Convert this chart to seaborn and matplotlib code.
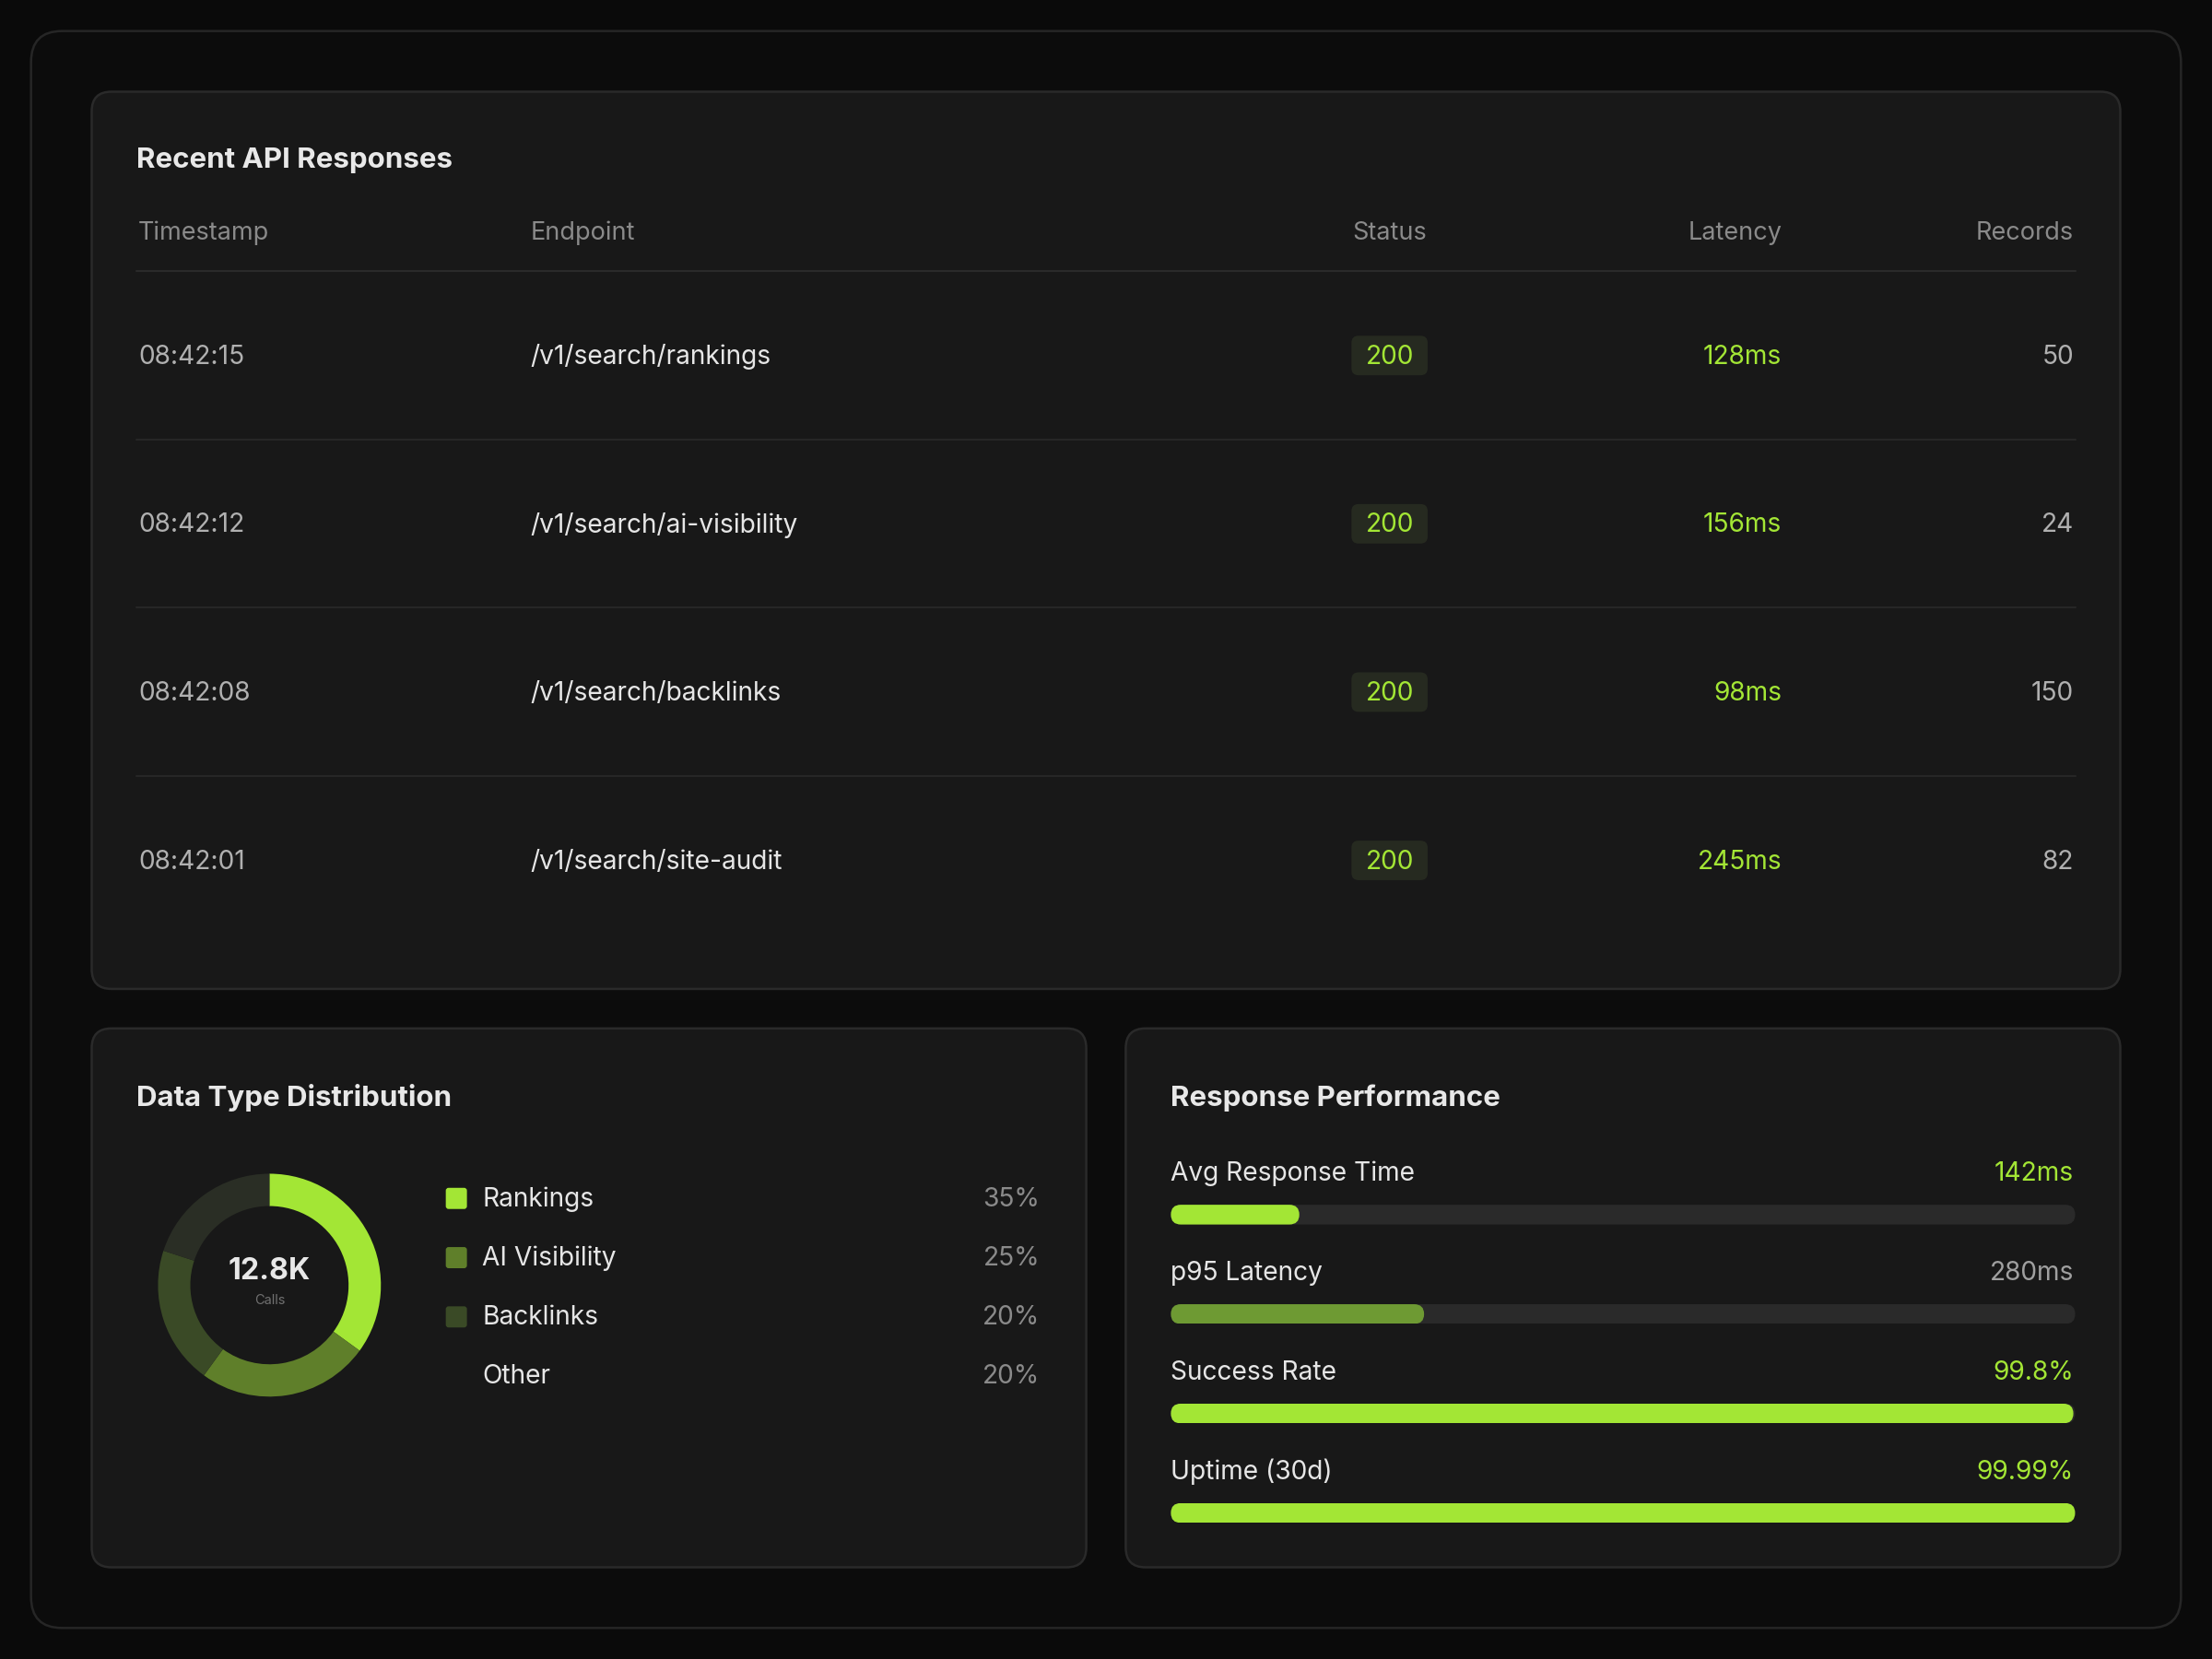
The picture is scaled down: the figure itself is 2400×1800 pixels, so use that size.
import matplotlib.pyplot as plt
import seaborn as sns
from matplotlib.patches import FancyBboxPatch

sns.set_theme(style="dark")
plt.rcParams['font.family'] = ['Inter', 'DejaVu Sans']

# data
timestamps = ['08:42:15', '08:42:12', '08:42:08', '08:42:01']
endpoints = ['/v1/search/rankings', '/v1/search/ai-visibility', '/v1/search/backlinks', '/v1/search/site-audit']
statuses = ['200', '200', '200', '200']
latencies = ['128ms', '156ms', '98ms', '245ms']
records = ['50', '24', '150', '82']

dist_labels = ['Rankings', 'AI Visibility', 'Backlinks', 'Other']
dist_values = [35, 25, 20, 20]
dist_colors = ['#a3e635', '#5f7f2a', '#3a4a26', '#2a2e25']

perf_labels = ['Avg Response Time', 'p95 Latency', 'Success Rate', 'Uptime (30d)']
perf_text = ['142ms', '280ms', '99.8%', '99.99%']
perf_fill = [0.142, 0.28, 0.998, 0.9999]
perf_colors = ['#a3e635', '#6e9a33', '#a3e635', '#a3e635']
perf_text_colors = ['#a3e635', '#a0a0a0', '#a3e635', '#a3e635']

LIME = '#a3e635'
FS = 13.5
fig = plt.figure(figsize=(16, 12), dpi=150, facecolor='#0a0a0a')
ax = fig.add_axes([0, 0, 1, 1])
ax.set_xlim(0, 1568)
ax.set_ylim(1176, 0)
ax.axis('off')
ax.set_facecolor('#0a0a0a')


def card(x, y, w, h, fc='#181818', ec='#2a2a2a', r=14):
    ax.add_patch(FancyBboxPatch((x, y), w, h, boxstyle=f"round,pad=0,rounding_size={r}",
                                fc=fc, ec=ec, lw=1.2))


card(22, 22, 1524, 1132, fc='#0c0c0c', ec='#262626', r=22)
card(65, 65, 1438, 636)
card(65, 729, 705, 382)
card(798, 729, 705, 382)

# table
ax.text(97, 114, 'Recent API Responses', color='#e8e8e8', fontsize=15, weight='bold', va='center')
hdr = [(98, 'Timestamp', 'left'), (376, 'Endpoint', 'left'), (985, 'Status', 'center'),
       (1263, 'Latency', 'right'), (1470, 'Records', 'right')]
for x, t, ha in hdr:
    ax.text(x, 165, t, color='#8a8a8a', fontsize=13, ha=ha, va='center')
ax.plot([97, 1471], [192, 192], color='#2a2a2a', lw=1)
for i in range(len(timestamps)):
    y = 253 + i * 119.3
    ax.text(98, y, timestamps[i], color='#b0b0b0', fontsize=FS, va='center')
    ax.text(376, y, endpoints[i], color='#e6e6e6', fontsize=FS, va='center')
    ax.add_patch(FancyBboxPatch((958, y - 15), 54, 28, boxstyle="round,pad=0,rounding_size=5",
                                fc='#262a20', ec='none'))
    ax.text(985, y, statuses[i], color=LIME, fontsize=FS, ha='center', va='center')
    ax.text(1263, y, latencies[i], color=LIME, fontsize=FS, ha='right', va='center')
    ax.text(1470, y, records[i], color='#b0b0b0', fontsize=FS, ha='right', va='center')
    if i < len(timestamps) - 1:
        ax.plot([97, 1471], [y + 58.5, y + 58.5], color='#262626', lw=1)

# donut
ax.text(97, 778, 'Data Type Distribution', color='#e8e8e8', fontsize=15, weight='bold', va='center')
dax = fig.add_axes([112 / 1568, 1 - 990 / 1176, 158 / 1568, 158 / 1176])
dax.pie(dist_values, colors=dist_colors, startangle=90, counterclock=False,
        wedgeprops=dict(width=0.29, edgecolor='none'))
dax.set_xlim(-1, 1)
dax.set_ylim(-1, 1)
dax.set_aspect('equal')
dax.text(0, 0.12, '12.8K', color='#e8e8e8', fontsize=15.5, weight='bold', ha='center', va='center')
dax.text(0, -0.14, 'Calls', color='#707070', fontsize=7, ha='center', va='center')
for i, (lab, val) in enumerate(zip(dist_labels, dist_values)):
    y = 850 + i * 42
    if i < 3:
        ax.add_patch(FancyBboxPatch((316, y - 8), 15, 15, boxstyle="round,pad=0,rounding_size=2",
                                    fc=dist_colors[i], ec='none'))
    ax.text(342, y, lab, color='#e6e6e6', fontsize=FS, va='center')
    ax.text(737, y, f'{val}%', color='#8a8a8a', fontsize=FS, ha='right', va='center')

# performance bars
ax.text(830, 778, 'Response Performance', color='#e8e8e8', fontsize=15, weight='bold', va='center')
for i in range(len(perf_labels)):
    y = 832 + i * 70.5
    ax.text(830, y, perf_labels[i], color='#e6e6e6', fontsize=FS, va='center')
    ax.text(1470, y, perf_text[i], color=perf_text_colors[i], fontsize=FS, ha='right', va='center')
    bax = fig.add_axes([830 / 1568, 1 - (y + 36) / 1176, 641 / 1568, 14 / 1176])
    bax.set_xlim(0, 1)
    bax.set_ylim(0, 1)
    bax.axis('off')
    bax.add_patch(FancyBboxPatch((0, 0), 1, 1, boxstyle="round,pad=0,rounding_size=0.011",
                                 mutation_aspect=45, fc='#2a2a2a', ec='none'))
    bax.add_patch(FancyBboxPatch((0, 0), perf_fill[i], 1, boxstyle="round,pad=0,rounding_size=0.011",
                                 mutation_aspect=45, fc=perf_colors[i], ec='none'))

fig.savefig('out.png', dpi=150, facecolor=fig.get_facecolor())
